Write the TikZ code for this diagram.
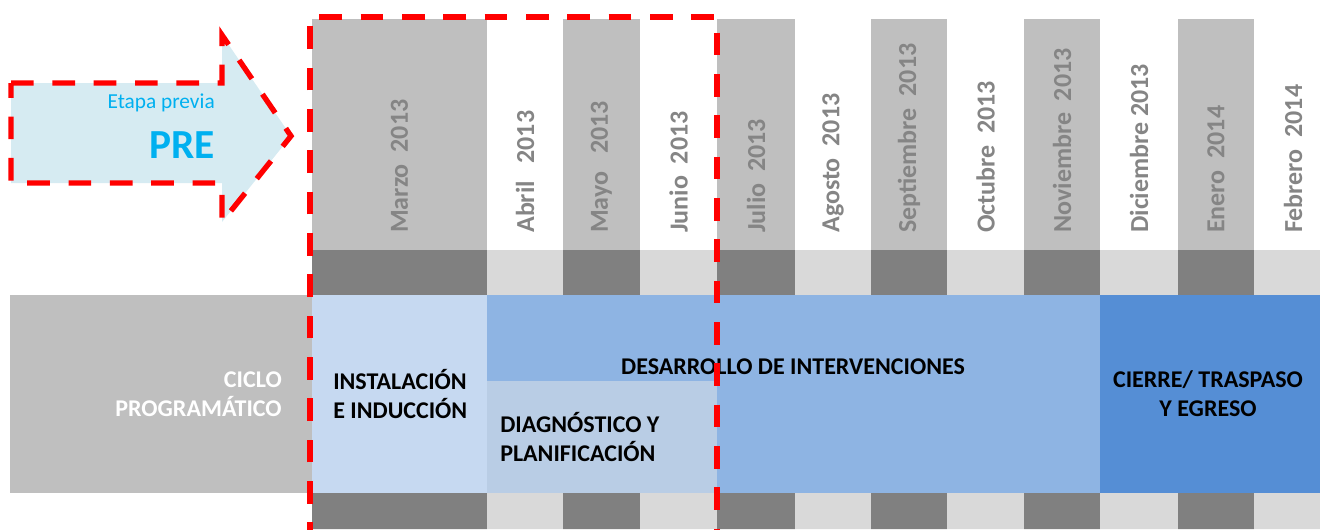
\documentclass[tikz,border=0pt]{standalone}
\usepackage{fontspec}
\setmainfont{Carlito}
\definecolor{mesgris}{HTML}{BFBFBF}
\definecolor{bandaoscura}{HTML}{808080}
\definecolor{bandaclara}{HTML}{D9D9D9}
\definecolor{textomes}{HTML}{858585}
\definecolor{azulinst}{HTML}{C6D9F1}
\definecolor{azuldes}{HTML}{8EB4E3}
\definecolor{azuldiag}{HTML}{B9CDE5}
\definecolor{azulcierre}{HTML}{558ED5}
\definecolor{flecha}{HTML}{D6EBF2}
\definecolor{celeste}{HTML}{00B0F0}
\begin{document}
\begin{tikzpicture}[x=0.75pt, y=-0.75pt,
    mes/.style={rotate=90, anchor=west, inner sep=0pt, text=textomes, font=\fontsize{19.5}{22}\selectfont\bfseries},
    fase/.style={inner sep=0pt, font=\fontsize{18}{21.75}\selectfont\bfseries},
    rojo/.style={draw=red, line width=4pt, dash pattern=on 17pt off 14pt}]
    \useasboundingbox (0,0) rectangle (1320,529);
    % columnas de meses y bandas
    \fill[mesgris] (312,19) rectangle (487,250);
    \fill[bandaoscura] (312,250) rectangle (487,295) (312,493) rectangle (487,529);
    \fill[bandaclara] (487,250) rectangle (563,295) (487,493) rectangle (563,529);
    \fill[mesgris] (563,19) rectangle (640,250);
    \fill[bandaoscura] (563,250) rectangle (640,295) (563,493) rectangle (640,529);
    \fill[bandaclara] (640,250) rectangle (717,295) (640,493) rectangle (717,529);
    \fill[mesgris] (717,19) rectangle (795,250);
    \fill[bandaoscura] (717,250) rectangle (795,295) (717,493) rectangle (795,529);
    \fill[bandaclara] (795,250) rectangle (871,295) (795,493) rectangle (871,529);
    \fill[mesgris] (871,19) rectangle (947,250);
    \fill[bandaoscura] (871,250) rectangle (947,295) (871,493) rectangle (947,529);
    \fill[bandaclara] (947,250) rectangle (1024,295) (947,493) rectangle (1024,529);
    \fill[mesgris] (1024,19) rectangle (1100,250);
    \fill[bandaoscura] (1024,250) rectangle (1100,295) (1024,493) rectangle (1100,529);
    \fill[bandaclara] (1100,250) rectangle (1178,295) (1100,493) rectangle (1178,529);
    \fill[mesgris] (1178,19) rectangle (1254,250);
    \fill[bandaoscura] (1178,250) rectangle (1254,295) (1178,493) rectangle (1254,529);
    \fill[bandaclara] (1254,250) rectangle (1320,295) (1254,493) rectangle (1320,529);
    \node [mes] (marzo) at (399.5,233) {Marzo\ \ 2013};
    \node [mes] (abril) at (525,233) {Abril\ \ \ 2013};
    \node [mes] (mayo) at (601.5,233) {Mayo\ \ \ 2013};
    \node [mes] (junio) at (678.5,233) {Junio\ \ 2013};
    \node [mes] (julio) at (756,233) {Julio\ \ 2013};
    \node [mes] (agosto) at (833,233) {Agosto\ \ 2013};
    \node [mes] (septiembre) at (909,233) {Septiembre\ \ 2013};
    \node [mes] (octubre) at (985.5,233) {Octubre\ \ 2013};
    \node [mes] (noviembre) at (1062,233) {Noviembre\ \ 2013};
    \node [mes] (diciembre) at (1139,233) {Diciembre 2013};
    \node [mes] (enero) at (1216,233) {Enero\ \ 2014};
    \node [mes] (febrero) at (1293,233) {Febrero\ \ 2014};
    % ciclo programatico
    \fill[mesgris] (10,295) rectangle (312,493);
    \fill[azulinst] (312,295) rectangle (487,493);
    \fill[azuldes] (487,295) rectangle (1100,493);
    \fill[azuldiag] (487,381) rectangle (717,493);
    \fill[azulcierre] (1100,295) rectangle (1320,493);
    \node [fase, text=white, align=right, anchor=east] (ciclo) at (282,394) {CICLO\\PROGRAMÁTICO};
    \node [fase, align=left, anchor=west] (instalacion) at (333,394) {INSTALACIÓN\\E INDUCCIÓN};
    \node [fase] (desarrollo) at (793,367) {DESARROLLO DE INTERVENCIONES};
    \node [fase, align=left, anchor=west] (diagnostico) at (500,437) {DIAGNÓSTICO Y\\PLANIFICACIÓN};
    \node [fase, align=center] (cierre) at (1208,394) {CIERRE/ TRASPASO\\Y EGRESO};
    % etapa previa
    \draw[rojo] (310,545) -- (310,17) -- (717,17) -- (717,545);
    \filldraw[rojo, fill=flecha] (11,83) -- (222,83) -- (222,35) -- (291,136) -- (222,222) -- (222,183) -- (11,183) -- cycle;
    \node [anchor=east, inner sep=0pt, text=celeste, font=\fontsize{16}{19}\selectfont] (etapa) at (215,103) {Etapa previa};
    \node [anchor=east, inner sep=0pt, text=celeste, font=\fontsize{31}{36}\selectfont\bfseries] (pre) at (215,145) {PRE};
\end{tikzpicture}
\end{document}
